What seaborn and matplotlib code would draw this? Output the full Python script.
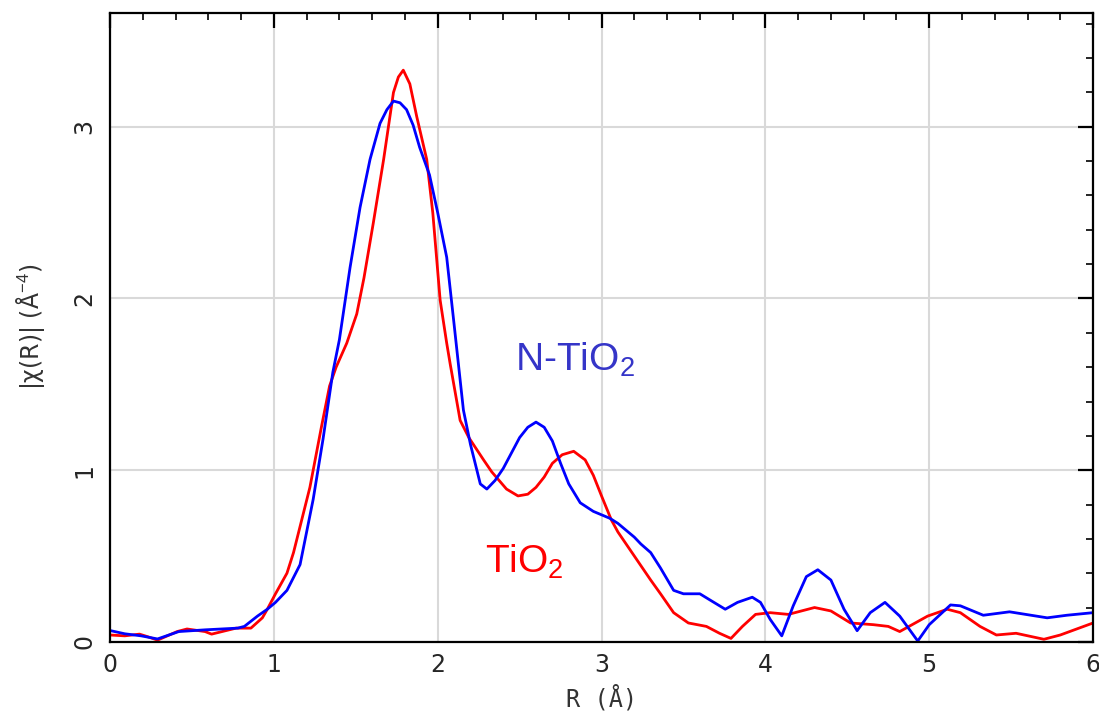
"""
EXAFS Fourier-transform magnitude |chi(R)| for TiO2 and N-TiO2.
"""

import numpy as np
import pandas as pd
import matplotlib
matplotlib.use("Agg")
import matplotlib.pyplot as plt
from matplotlib.ticker import MultipleLocator
import seaborn as sns

# ============================================================================
# Data
# ============================================================================

r_ntio2 = [0.0, 0.09, 0.19, 0.29, 0.42, 0.58, 0.78, 0.82, 0.90, 0.96, 1.01, 1.08,
           1.16, 1.24, 1.30, 1.36, 1.40, 1.465, 1.526, 1.587, 1.648, 1.69, 1.73, 1.77,
           1.81, 1.85, 1.89, 1.95, 2.0, 2.055, 2.10, 2.157, 2.20, 2.26, 2.30, 2.35,
           2.40, 2.45, 2.50, 2.55, 2.60, 2.65, 2.70, 2.75, 2.80, 2.87, 2.95, 3.05,
           3.10, 3.20, 3.24, 3.30, 3.36, 3.44, 3.50, 3.60, 3.66, 3.755, 3.83, 3.92,
           3.97, 4.03, 4.10, 4.17, 4.25, 4.32, 4.40, 4.48, 4.56, 4.64, 4.73, 4.82,
           4.93, 5.00, 5.13, 5.19, 5.33, 5.49, 5.72, 5.84, 6.0]
chi_ntio2 = [0.066, 0.047, 0.035, 0.017, 0.06, 0.07, 0.08, 0.09, 0.15, 0.19, 0.23, 0.30,
             0.45, 0.83, 1.18, 1.57, 1.76, 2.18, 2.53, 2.81, 3.02, 3.10, 3.15, 3.14,
             3.10, 3.01, 2.88, 2.72, 2.50, 2.24, 1.85, 1.35, 1.15, 0.92, 0.89, 0.94,
             1.01, 1.10, 1.19, 1.25, 1.28, 1.25, 1.17, 1.04, 0.92, 0.81, 0.76, 0.72,
             0.69, 0.61, 0.57, 0.52, 0.43, 0.30, 0.28, 0.28, 0.245, 0.19, 0.23, 0.26,
             0.23, 0.13, 0.035, 0.21, 0.38, 0.42, 0.36, 0.19, 0.065, 0.17, 0.23, 0.15,
             0.005, 0.10, 0.215, 0.21, 0.155, 0.175, 0.14, 0.155, 0.17]

r_tio2 = [0.0, 0.09, 0.18, 0.23, 0.29, 0.41, 0.47, 0.58, 0.62, 0.77, 0.86, 0.93,
          0.96, 1.01, 1.08, 1.12, 1.22, 1.29, 1.34, 1.38, 1.445, 1.506, 1.55, 1.607,
          1.67, 1.73, 1.76, 1.79, 1.83, 1.872, 1.933, 1.97, 2.015, 2.055, 2.076,
          2.137, 2.19, 2.28, 2.33, 2.42, 2.49, 2.55, 2.60, 2.65, 2.70, 2.76, 2.83,
          2.90, 2.95, 3.0, 3.06, 3.10, 3.20, 3.30, 3.36, 3.44, 3.53, 3.64, 3.72,
          3.79, 3.86, 3.94, 4.03, 4.14, 4.30, 4.40, 4.52, 4.66, 4.75, 4.82, 4.99,
          5.11, 5.19, 5.31, 5.41, 5.53, 5.70, 5.80, 6.0]
chi_tio2 = [0.04, 0.035, 0.045, 0.03, 0.01, 0.06, 0.075, 0.06, 0.045, 0.08, 0.08, 0.14,
            0.19, 0.28, 0.40, 0.52, 0.90, 1.25, 1.49, 1.60, 1.74, 1.91, 2.12, 2.44,
            2.81, 3.20, 3.29, 3.33, 3.25, 3.06, 2.81, 2.50, 1.99, 1.74, 1.62,
            1.29, 1.19, 1.06, 0.99, 0.89, 0.85, 0.86, 0.90, 0.96, 1.04, 1.09, 1.11,
            1.06, 0.97, 0.85, 0.71, 0.64, 0.50, 0.36, 0.28, 0.17, 0.11, 0.09, 0.05,
            0.02, 0.09, 0.16, 0.17, 0.16, 0.20, 0.18, 0.11, 0.10, 0.09, 0.06, 0.15,
            0.19, 0.17, 0.09, 0.04, 0.05, 0.015, 0.04, 0.11]

x_ticks = [0, 1, 2, 3, 4, 5, 6]
y_ticks = [0, 1, 2, 3]

df = pd.concat([
    pd.DataFrame({'R': r_tio2, 'chi': chi_tio2, 'sample': 'TiO2'}),
    pd.DataFrame({'R': r_ntio2, 'chi': chi_ntio2, 'sample': 'N-TiO2'}),
], ignore_index=True)

# ============================================================================
# Style
# ============================================================================

sns.set_style("white")
plt.rcParams['font.family'] = ['DejaVu Sans']
plt.rcParams['mathtext.fontset'] = 'custom'
plt.rcParams['mathtext.rm'] = 'Liberation Sans'
plt.rcParams['mathtext.it'] = 'Liberation Sans:italic'

fig = plt.figure(figsize=(10.99, 7.22), dpi=100)
ax = fig.add_axes([0.1001, 0.111, 0.8945, 0.871])

sns.lineplot(data=df, x='R', y='chi', hue='sample', sort=False, estimator=None,
             palette={'TiO2': '#ff0000', 'N-TiO2': '#0000ff'},
             hue_order=['TiO2', 'N-TiO2'], linewidth=2, legend=False, ax=ax)

ax.set_xlim(0, 6)
ax.set_ylim(0, 3.663)
ax.set_xticks(x_ticks)
ax.set_yticks(y_ticks)
ax.xaxis.set_minor_locator(MultipleLocator(0.2))
ax.yaxis.set_minor_locator(MultipleLocator(0.2))
ax.grid(True, which='major', color='#d9d9d9', linewidth=1.5)
ax.set_axisbelow(True)

ax.tick_params(which='both', direction='in', top=True, right=True, color='black')
ax.tick_params(which='major', length=11, width=1.6, labelsize=17, pad=8)
ax.tick_params(which='minor', length=5, width=1.2)
for lbl in ax.get_yticklabels():
    lbl.set_rotation(90)
    lbl.set_va('center')
ax.tick_params(axis='y', which='major', pad=10)

for spine in ax.spines.values():
    spine.set_color('black')
    spine.set_linewidth(1.6)

ax.set_xlabel('R (Å)', fontsize=17, family='DejaVu Sans Mono', color='#333333')
ax.set_ylabel('|χ(R)| (Å$^{-4}$)', fontsize=17, color='#333333')
ax.xaxis.set_label_coords(0.5, -0.068)
ax.yaxis.set_label_coords(-0.064, 0.5)

# Sample labels
ax.text(2.47, 1.58, 'N-TiO$_2$', color='#3535c8', fontsize=28,
        family='Liberation Sans', ha='left', va='baseline')
ax.text(2.29, 0.40, 'TiO$_2$', color='#ff0000', fontsize=28,
        family='Liberation Sans', ha='left', va='baseline')

plt.savefig('out.png', dpi=100)
plt.close()
